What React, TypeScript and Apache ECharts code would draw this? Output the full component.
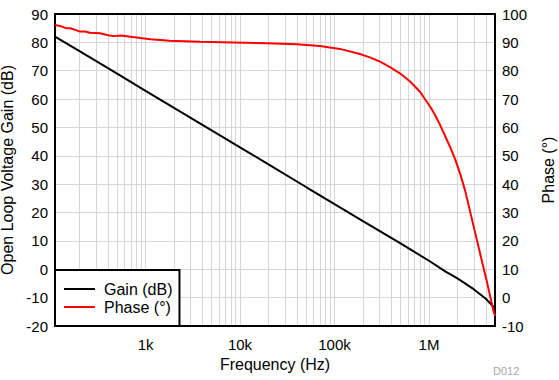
import React, { useEffect, useRef } from "react";
import * as echarts from "echarts";

// ---- Data ----
const gainFreqHz = [110, 200, 500, 1000, 2000, 5000, 10000, 20000, 50000, 100000, 200000, 500000, 1000000, 1500000, 2000000, 3000000, 4000000, 5000000];
const gainDb = [82.0, 76.9, 69.0, 62.9, 56.9, 49.0, 43.0, 37.0, 29.0, 23.0, 17.0, 9.1, 3.0, -0.8, -3.2, -7.1, -10.4, -13.8];

const phaseFreqHz = [110, 124, 141, 159, 180, 202, 228, 258, 331, 400, 465, 550, 700, 880, 1130, 1800, 2600, 3770, 19100, 40000, 70000, 114000, 186000, 237000, 303000, 387000, 493000, 631000, 803000, 1030000, 1160000, 1310000, 1670000, 1887000, 2131000, 2407000, 2719000, 3071000, 3469000, 4085000, 4797000, 5000000];
const phaseDeg = [96.1, 95.8, 95.1, 95.0, 94.4, 93.8, 93.8, 93.4, 93.2, 92.5, 92.2, 92.4, 92.0, 91.5, 91.1, 90.6, 90.4, 90.2, 89.7, 89.3, 88.7, 87.7, 85.9, 84.7, 83.2, 81.3, 79.1, 76.2, 72.6, 67.3, 64.4, 60.9, 53.2, 48.9, 43.8, 37.9, 30.5, 23.1, 15.7, 5.9, -4.4, -6.5];

const xTickFreqHz = [1000, 10000, 100000, 1000000];
const xTickLabels = ["1k", "10k", "100k", "1M"];
const xMinHz = 110;
const xMaxHz = 5000000;
const gainMin = -20;
const gainMax = 90;
const phaseMin = -10;
const phaseMax = 100;
const yStep = 10;

const seriesNames = ["Gain (dB)", "Phase (°)"];

// minor log grid positions (1..9 × decade)
const decadesHz = [100, 1000, 10000, 100000, 1000000];
const gridMultipliers = [1, 2, 3, 4, 5, 6, 7, 8, 9];

const FONT = "'Liberation Sans', Arial, sans-serif";

export default function App() {
  const ref = useRef<HTMLDivElement>(null);

  useEffect(() => {
    if (!ref.current) return;
    const chart = echarts.init(ref.current, undefined, { renderer: "svg" });

    const lg = (f: number) => Math.log10(f);
    const gridVals: number[] = [];
    decadesHz.forEach((d) =>
      gridMultipliers.forEach((m) => {
        const f = d * m;
        if (f > xMinHz && f < xMaxHz) gridVals.push(lg(f));
      })
    );
    const labelMap: Record<string, string> = {};
    xTickFreqHz.forEach((f, i) => (labelMap[String(Math.round(lg(f)))] = xTickLabels[i]));

    const gainData = gainFreqHz.map((f, i) => [lg(f), gainDb[i]]);
    const phaseData = phaseFreqHz.map((f, i) => [lg(f), phaseDeg[i]]);

    const gridColor = "#d6d6d6";

    chart.setOption({
      animation: false,
      textStyle: { fontFamily: FONT },
      grid: {
        left: 55,
        right: 64,
        top: 14,
        bottom: 54,
        outerBoundsMode: "none",
        containLabel: false,
        show: true,
        borderColor: "#000",
        borderWidth: 2,
        backgroundColor: "transparent",
        z: 3,
      },
      xAxis: {
        type: "value",
        min: lg(xMinHz),
        max: lg(xMaxHz),
        name: "Frequency (Hz)",
        nameLocation: "middle",
        nameGap: 28,
        nameTextStyle: { fontSize: 16, color: "#000", fontFamily: FONT },
        axisLine: { show: false },
        axisTick: { show: false, customValues: gridVals },
        splitLine: { show: true, lineStyle: { color: gridColor, width: 1 } },
        axisLabel: {
          customValues: xTickFreqHz.map(lg),
          formatter: (v: number) => labelMap[String(Math.round(v))] ?? "",
          fontSize: 15,
          color: "#000",
          margin: 11,
          fontFamily: FONT,
        },
      },
      yAxis: [
        {
          type: "value",
          position: "left",
          min: gainMin,
          max: gainMax,
          interval: yStep,
          name: "Open Loop Voltage Gain (dB)",
          nameLocation: "middle",
          nameGap: 40,
          nameTextStyle: { fontSize: 16, color: "#000", fontFamily: FONT },
          axisLine: { show: false },
          axisTick: { show: false },
          splitLine: { show: true, lineStyle: { color: gridColor, width: 1 } },
          axisLabel: { fontSize: 15, color: "#000", margin: 7, fontFamily: FONT },
        },
        {
          type: "value",
          position: "right",
          min: phaseMin,
          max: phaseMax,
          interval: yStep,
          name: "Phase (°)",
          nameLocation: "middle",
          nameGap: 45,
          nameTextStyle: { fontSize: 16, color: "#000", fontFamily: FONT },
          axisLine: { show: false },
          axisTick: { show: false },
          splitLine: { show: false },
          axisLabel: { fontSize: 15, color: "#000", margin: 7, fontFamily: FONT },
        },
      ],
      legend: {
        data: seriesNames,
        orient: "vertical",
        left: 55,
        top: 270,
        padding: [10, 7, 10, 9],
        itemGap: 0,
        itemWidth: 31,
        itemHeight: 2,
        icon: "rect",
        backgroundColor: "#fff",
        borderColor: "#000",
        borderWidth: 2,
        borderRadius: 0,
        z: 10,
        textStyle: { fontSize: 16, color: "#000", lineHeight: 18, padding: [0, 0, 0, 4], fontFamily: FONT },
      },
      graphic: [
        {
          type: "text",
          left: 493,
          top: 365,
          style: { text: "D012", fontSize: 11, fill: "#a6a6a6", fontFamily: FONT },
        },
      ],
      series: [
        {
          name: seriesNames[0],
          type: "line",
          yAxisIndex: 0,
          data: gainData,
          showSymbol: false,
          symbol: "none",
          color: "#000",
          lineStyle: { color: "#000", width: 2 },
          z: 4,
        },
        {
          name: seriesNames[1],
          type: "line",
          yAxisIndex: 1,
          data: phaseData,
          showSymbol: false,
          symbol: "none",
          color: "#ff0000",
          lineStyle: { color: "#ff0000", width: 2 },
          z: 5,
        },
      ],
    });

    return () => chart.dispose();
  }, []);

  return (
    <div
      ref={ref}
      style={{ position: "fixed", left: 0, top: 0, width: 559, height: 380, background: "#fff" }}
    />
  );
}
